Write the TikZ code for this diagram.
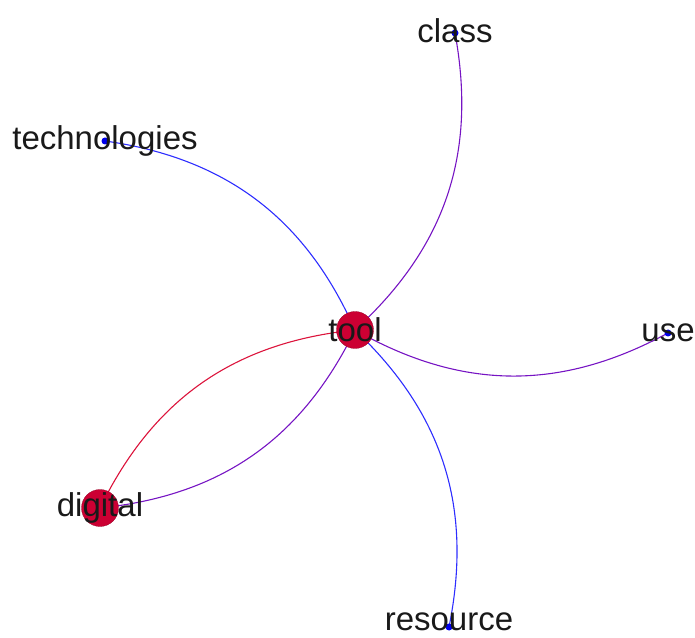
\documentclass[tikz,border=0pt]{standalone}
\usepackage{fontspec}
\setmainfont{Liberation Sans}
\usepackage{tikz}
\usetikzlibrary{backgrounds}
\definecolor{hubred}{RGB}{204,0,51}
\definecolor{linkred}{RGB}{220,20,60}
\definecolor{linkpurple}{RGB}{118,20,195}
\definecolor{linkblue}{RGB}{45,45,255}
\definecolor{leafblue}{RGB}{0,0,235}
\definecolor{labelgray}{RGB}{25,25,25}

\begin{document}
\begin{tikzpicture}[
    x=1pt, y=1pt,
    hub/.style={circle, fill=hubred, draw=hubred!75!black, line width=0.3pt, minimum size=37pt, inner sep=0pt},
    leaf/.style={circle, fill=leafblue, minimum size=7pt, inner sep=0pt},
    word/.style={text=labelgray, inner sep=0pt, font=\fontsize{33}{34}\selectfont},
    link/.style={line width=1.1pt, bend right=29}
]
    \useasboundingbox (0,0) rectangle (695,637);

    % knoten
    \node[hub, label={[word]center:tool}] (tool) at (355,307) {};
    \node[hub, label={[word]center:digital}] (digital) at (100,129) {};
    \node[leaf, label={[word, yshift=2pt]center:class}] (class) at (455,604) {};
    \node[leaf, label={[word]center:technologies}] (technologies) at (105,496) {};
    \node[leaf, label={[word]center:use}] (use) at (668,304) {};
    \node[leaf, label={[word, yshift=5pt]center:resource}] (resource) at (449,10) {};

    % kanten
    \begin{scope}[on background layer]
        \draw[link, linkpurple] (tool.center) to (class.center);
        \draw[link, linkblue] (tool.center) to (technologies.center);
        \draw[link, linkpurple] (tool.center) to (use.center);
        \draw[link, linkblue] (resource.center) to (tool.center);
        \draw[link, linkpurple] (digital.center) to (tool.center);
        \draw[link, linkred] (tool.center) to (digital.center);
    \end{scope}
\end{tikzpicture}
\end{document}
